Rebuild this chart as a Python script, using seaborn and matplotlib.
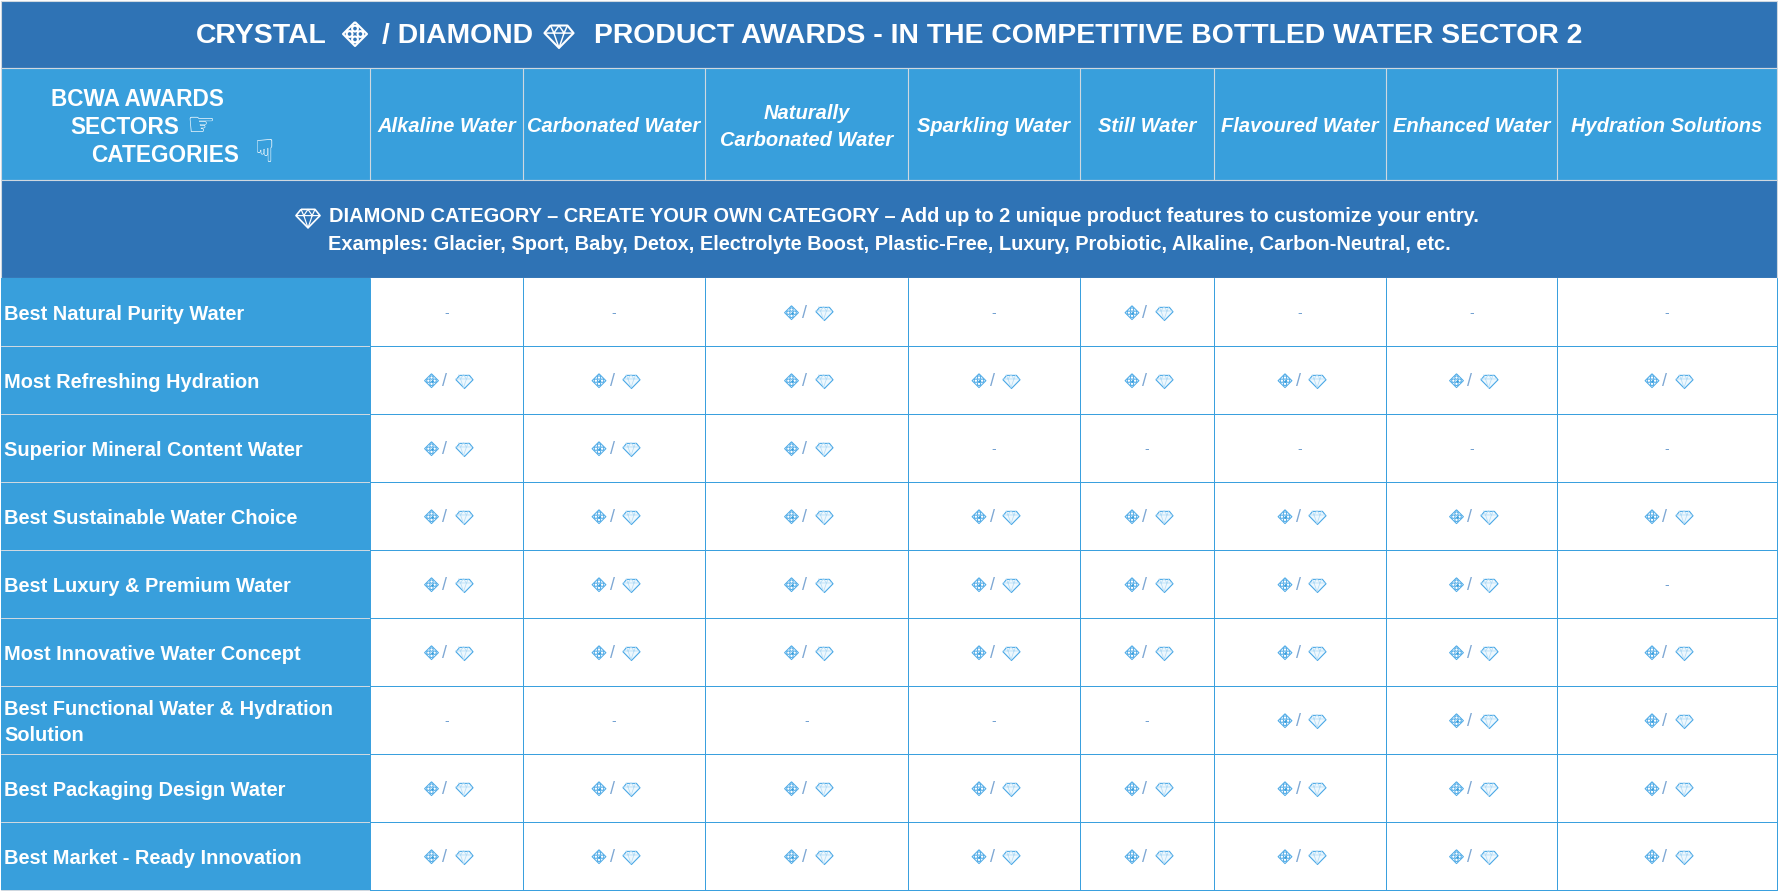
# BCWA bottled water awards table
import pandas as pd
import matplotlib.pyplot as plt
import seaborn as sns
from matplotlib.colors import ListedColormap
from matplotlib.patches import Rectangle
from matplotlib.path import Path

# Table content
sectors = ["Alkaline Water", "Carbonated Water", "Naturally\nCarbonated Water", "Sparkling Water",
           "Still Water", "Flavoured Water", "Enhanced Water", "Hydration Solutions"]
categories = ["Best Natural Purity Water", "Most Refreshing Hydration", "Superior Mineral Content Water",
              "Best Sustainable Water Choice", "Best Luxury & Premium Water", "Most Innovative Water Concept",
              "Best Functional Water & Hydration\nSolution", "Best Packaging Design Water",
              "Best Market - Ready Innovation"]
# 1 = crystal / diamond award offered, 0 = dash
natural_purity = [0, 0, 1, 0, 1, 0, 0, 0]
refreshing = [1, 1, 1, 1, 1, 1, 1, 1]
mineral = [1, 1, 1, 0, 0, 0, 0, 0]
sustainable = [1, 1, 1, 1, 1, 1, 1, 1]
luxury = [1, 1, 1, 1, 1, 1, 1, 0]
innovative = [1, 1, 1, 1, 1, 1, 1, 1]
functional = [0, 0, 0, 0, 0, 1, 1, 1]
packaging = [1, 1, 1, 1, 1, 1, 1, 1]
market_ready = [1, 1, 1, 1, 1, 1, 1, 1]

df = pd.DataFrame([natural_purity, refreshing, mineral, sustainable, luxury, innovative,
                   functional, packaging, market_ready], index=categories, columns=sectors)

W, H = 1778, 891
col_edges = [1, 370, 523, 705, 908, 1080, 1214, 1386, 1557, 1777]
body_top, body_bottom = 278, 890
row_height = (body_bottom - body_top) / len(categories)
DARK = "#2f73b5"
LIGHT = "#389fdc"
GRID = "#3aa0de"
RULE = "#cfd8e0"

sns.set_theme(style="white")
plt.rcParams["font.family"] = ["Liberation Sans", "DejaVu Sans"]
fig = plt.figure(figsize=(W / 100, H / 100), dpi=100, facecolor="white")


# icon shapes, used as scatter markers
def segments(lines):
    verts, codes = [], []
    for line in lines:
        for i, p in enumerate(line):
            verts.append(p)
            codes.append(Path.MOVETO if i == 0 else Path.LINETO)
    return Path(verts, codes)


def circle(cx, cy, r):
    c = Path.unit_circle()
    return Path(c.vertices * r + [cx, cy], c.codes)


crystal = Path.make_compound_path(segments([[(0, 1), (1, 0), (0, -1), (-1, 0), (0, 1)]]),
                                  circle(0, .45, .24), circle(.45, 0, .24), circle(0, -.45, .24), circle(-.45, 0, .24))
crystal_core = Path([(0, 1), (1, 0), (0, -1), (-1, 0), (0, 1)])
gem_outline = segments([[(-.58, .72), (.58, .72), (1, .2), (0, -.82), (-1, .2), (-.58, .72)]])
gem_facets = segments([[(-1, .2), (1, .2)],
                       [(-.58, .72), (-.35, .2), (0, .72), (.35, .2), (.58, .72)],
                       [(-.35, .2), (0, -.82), (.35, .2)]])


def draw_crystal(ax, x, y, size, color, lw, core=None):
    ax.scatter(x, y, marker=crystal, s=size, facecolors="none", edgecolors=color, linewidths=lw, zorder=5)
    if core:
        ax.scatter(x, y, marker=crystal_core, s=size * .05, color=core, linewidths=0, zorder=5)


def draw_gem(ax, x, y, size, color, lw, facet=None, fill="none"):
    ax.scatter(x, y, marker=gem_outline, s=size, facecolors=fill, edgecolors=color, linewidths=lw, zorder=5)
    ax.scatter(x, y, marker=gem_facets, s=size, facecolors="none", edgecolors=facet or color, linewidths=lw * .7, zorder=5)


# one heatmap per column, the column widths differ
def column_ax(left, right):
    return fig.add_axes([left / W, 1 - body_bottom / H, (right - left) / W, (body_bottom - body_top) / H])


# category names
ax = column_ax(col_edges[0], col_edges[1])
sns.heatmap(df.iloc[:, [0]], ax=ax, cmap=ListedColormap([LIGHT]), cbar=False, linewidths=0,
            xticklabels=False, yticklabels=False)
ax.set(xlabel="", ylabel="")
for r, name in enumerate(categories):
    ax.text(3.5 / (col_edges[1] - col_edges[0]), r + .54, name, color="white", fontweight="bold", fontsize=14.4,
            ha="left", va="center", linespacing=1.43)

# award cells
for c, sector in enumerate(sectors):
    width = col_edges[c + 2] - col_edges[c + 1]
    ax = column_ax(col_edges[c + 1], col_edges[c + 2])
    sns.heatmap(df[[sector]], ax=ax, cmap=ListedColormap(["white"]), cbar=False, linewidths=0,
                xticklabels=False, yticklabels=False)
    ax.set(xlabel="", ylabel="")
    for r, value in enumerate(df[sector]):
        if value:
            draw_crystal(ax, .5 - 15 / width, r + .51, 100, "#4aa8e6", .7, core="#3aa0de")
            ax.text(.5 - 2 / width, r + .52, "/", color="#7fa8d4", fontsize=13, ha="center", va="center")
            draw_gem(ax, .5 + 17 / width, r + .51, 150, "#4aa8e6", .8, facet="#b6ddf6", fill="#eef8fe")
        else:
            ax.text(.5, r + .52, "-", color="#6f9fd0", fontsize=10, ha="center", va="center")

# header bands, in pixel coordinates of the figure
ov = fig.add_axes([0, 0, 1, 1], zorder=-1)
ov.set_xlim(0, W)
ov.set_ylim(H, 0)
ov.axis("off")
ov.add_patch(Rectangle((1, 1), W - 2, 67, facecolor=DARK, edgecolor=RULE, linewidth=.8))
ov.add_patch(Rectangle((1, 68), W - 2, 112, facecolor=LIGHT, edgecolor=RULE, linewidth=.8))
ov.add_patch(Rectangle((1, 180), W - 2, 98, facecolor=DARK, edgecolor=RULE, linewidth=.8))
for x in col_edges[1:-1]:
    ov.plot([x, x], [68, 180], color=RULE, linewidth=.8)

ov2 = fig.add_axes([0, 0, 1, 1])
ov2.set_xlim(0, W)
ov2.set_ylim(H, 0)
ov2.axis("off")

# table rules, one pixel wide
for r in range(1, len(categories) + 1):
    y = body_top + r * row_height
    ov2.plot([col_edges[0], col_edges[1]], [y, y], color=RULE, linewidth=.72)
    ov2.plot([col_edges[1], col_edges[-1]], [y, y], color=GRID, linewidth=.72)
for x in col_edges[1:]:
    ov2.plot([x, x], [body_top, body_bottom], color=GRID, linewidth=.72)

# title row
title_style = dict(color="white", fontweight="bold", fontsize=20.4, va="center")
ov2.text(196, 36, "CRYSTAL", ha="left", **title_style)
draw_crystal(ov2, 355, 34, 300, "white", 1.5)
ov2.text(382, 36, "/ DIAMOND", ha="left", **title_style)
draw_gem(ov2, 559, 36, 440, "white", 1.5)
ov2.text(594, 36, "PRODUCT AWARDS - IN THE COMPETITIVE BOTTLED WATER SECTOR 2", ha="left", **title_style)

# sector header row
head_style = dict(color="white", fontweight="bold", fontsize=16.3, va="center")
ov2.text(51, 99, "BCWA AWARDS", ha="left", **head_style)
ov2.text(70, 127, "SECTORS", ha="left", **head_style)
ov2.text(201, 126, "\u261e", ha="center", color="white", fontsize=23, va="center", family="DejaVu Sans")
ov2.text(91, 155, "CATEGORIES", ha="left", **head_style)
ov2.text(264, 154, "\u261f", ha="center", color="white", fontsize=23, va="center", family="DejaVu Sans")
for c, sector in enumerate(sectors):
    xc = (col_edges[c + 1] + col_edges[c + 2]) / 2
    ov2.text(xc, 127, sector, color="white", fontweight="bold", fontstyle="italic", fontsize=14.5, ha="center",
             va="center", linespacing=1.47)

# diamond category band
band_style = dict(color="white", fontweight="bold", fontsize=14.4, va="center")
draw_gem(ov2, 308, 218, 300, "white", 1.2)
ov2.text(329, 217, "DIAMOND CATEGORY \u2013 CREATE YOUR OWN CATEGORY \u2013 Add up to 2 unique product features to customize your entry.",
         ha="left", **band_style)
ov2.text(889, 244, "Examples: Glacier, Sport, Baby, Detox, Electrolyte Boost, Plastic-Free, Luxury, Probiotic, Alkaline, Carbon-Neutral, etc.",
         ha="center", **band_style)

fig.savefig("out.png", dpi=100)
